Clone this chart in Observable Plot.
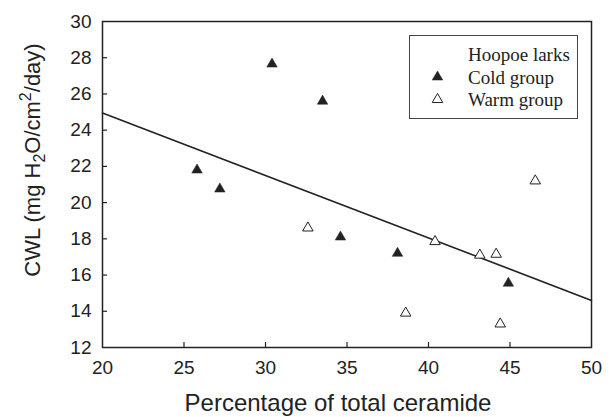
<!DOCTYPE html>
<html>
<head>
<meta charset="utf-8">
<script src="https://cdn.jsdelivr.net/npm/d3@7"></script>
<script src="https://cdn.jsdelivr.net/npm/@observablehq/plot@0.6"></script>
<style>
  html, body { margin: 0; padding: 0; background: #fff; }
</style>
</head>
<body>
<div id="chart"></div>
<script>
// Cold group (filled triangles)
const coldX = [25.8, 27.2, 30.4, 33.5, 34.6, 38.1, 44.9];
const coldY = [21.8, 20.75, 27.65, 25.6, 18.1, 17.2, 15.55];
// Warm group (open triangles)
const warmX = [32.6, 38.6, 40.4, 43.15, 44.15, 44.4, 46.55];
const warmY = [18.6, 13.9, 17.85, 17.1, 17.15, 13.3, 21.2];
// Regression line end points
const fitX = [20, 50];
const fitY = [24.95, 14.6];
// Axis ticks
const xTicks = [20, 25, 30, 35, 40, 45, 50];
const yTicks = [12, 14, 16, 18, 20, 22, 24, 26, 28, 30];
const xInnerTicks = [25, 30, 35, 40, 45];
const yInnerTicks = [14, 16, 18, 20, 22, 24, 26, 28];
// Legend
const legendTitle = "Hoopoe larks";
const legendLabels = ["Cold group", "Warm group"];

const cold = coldX.map((x, i) => ({x, y: coldY[i]}));
const warm = warmX.map((x, i) => ({x, y: warmY[i]}));
const fit = fitX.map((x, i) => ({x, y: fitY[i]}));

const W = 613, H = 417, mL = 102, mR = 22, mT = 21, mB = 70;
const tickLen = 5;
const ink = "#222";
const svg = Plot.plot({
  width: W,
  height: H,
  marginLeft: mL,
  marginRight: mR,
  marginTop: mT,
  marginBottom: mB,
  style: {fontFamily: "Liberation Sans, Arial, sans-serif", color: ink, background: "#fff"},
  x: {domain: [20, 50]},
  y: {domain: [12, 30]},
  marks: [
    Plot.axisX({ticks: xTicks, tickSize: 0, tickPadding: 13, fontSize: 19, label: null, tickFormat: d => String(d)}),
    Plot.axisY({ticks: yTicks, tickSize: 0, tickPadding: 11, fontSize: 19, label: null, tickFormat: d => String(d)}),
    Plot.tickX(xInnerTicks, {x: d => d, stroke: ink, strokeWidth: 1.2, insetTop: (H - mT - mB) - tickLen}),
    Plot.tickY(yInnerTicks, {y: d => d, stroke: ink, strokeWidth: 1.2, insetRight: (W - mL - mR) - tickLen}),
    Plot.line(fit, {x: "x", y: "y", stroke: ink, strokeWidth: 1.6}),
    Plot.dot(cold, {x: "x", y: "y", symbol: "triangle", r: 3.9, fill: ink, stroke: ink, strokeWidth: 0.5}),
    Plot.dot(warm, {x: "x", y: "y", symbol: "triangle", r: 3.9, fill: "#fff", stroke: ink, strokeWidth: 1}),
    Plot.frame({stroke: ink, strokeWidth: 1.5})
  ]
});

const root = d3.select(svg);

// X axis title
root.append("text")
  .attr("x", 338).attr("y", 411)
  .attr("text-anchor", "middle")
  .attr("font-family", "Liberation Sans, Arial, sans-serif")
  .attr("font-size", 24)
  .attr("fill", ink)
  .text("Percentage of total ceramide");

// Y axis title with sub/superscripts
const yl = root.append("text")
  .attr("transform", "translate(40,160) rotate(-90)")
  .attr("text-anchor", "middle")
  .attr("font-family", "Liberation Sans, Arial, sans-serif")
  .attr("font-size", 22)
  .attr("fill", ink);
yl.append("tspan").text("CWL (mg H");
yl.append("tspan").attr("dy", 5).attr("font-size", 16).text("2");
yl.append("tspan").attr("dy", -5).text("O/cm");
yl.append("tspan").attr("dy", -9).attr("font-size", 16).text("2");
yl.append("tspan").attr("dy", 9).text("/day)");

// Legend
const lg = root.append("g").attr("text-anchor", "start");
lg.append("rect")
  .attr("x", 409.5).attr("y", 35.5).attr("width", 168).attr("height", 83)
  .attr("fill", "#fff").attr("stroke", "#444").attr("stroke-width", 1);
const serif = "Liberation Serif, Times New Roman, serif";
lg.append("text").attr("x", 468).attr("y", 61).attr("text-anchor", "start")
  .attr("font-family", serif).attr("font-size", 19).attr("fill", ink).text(legendTitle);
const tri = d3.symbol(d3.symbolTriangle, Math.PI * 3.9 * 3.9)();
legendLabels.forEach((lab, i) => {
  const by = 83.5 + i * 22.5;
  lg.append("path").attr("d", tri)
    .attr("transform", `translate(437.5,${by - 6.5})`)
    .attr("fill", i === 0 ? ink : "#fff")
    .attr("stroke", ink).attr("stroke-width", i === 0 ? 0.5 : 1);
  lg.append("text").attr("x", 468).attr("y", by).attr("text-anchor", "start")
    .attr("font-family", serif).attr("font-size", 19).attr("fill", ink).text(lab);
});

document.getElementById("chart").appendChild(svg);
</script>
</body>
</html>
